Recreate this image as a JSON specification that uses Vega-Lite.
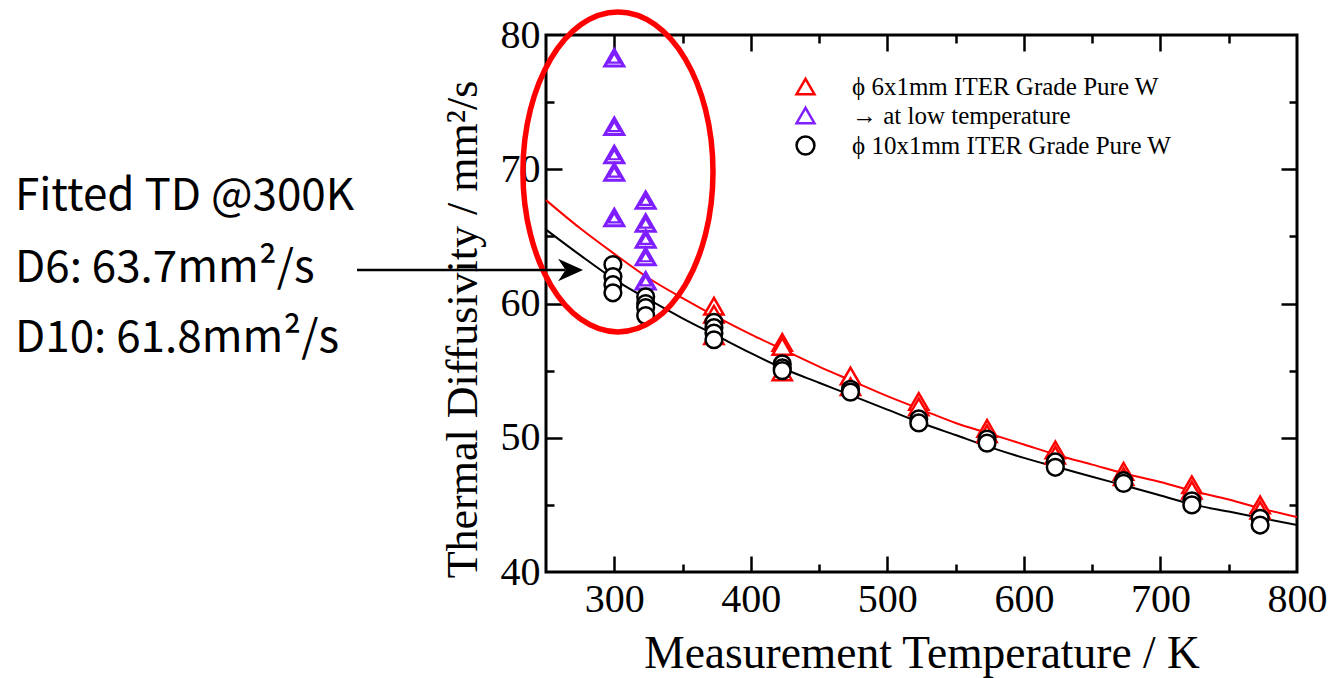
{
  "$schema": "https://vega.github.io/schema/vega-lite/v6.json",
  "width": 751,
  "height": 537,
  "autosize": {"type": "none"},
  "padding": {"left": 546, "top": 35, "right": 38, "bottom": 106},
  "background": "white",
  "config": {
    "view": {"stroke": "black", "strokeWidth": 3},
    "axis": {"grid": false, "domain": false, "labelColor": "black", "titleColor": "black", "tickColor": "black", "tickWidth": 2.5, "labelFont": "Liberation Serif", "titleFont": "Liberation Serif", "titleFontWeight": "normal", "labelFlush": false, "labelOverlap": false},
    "legend": {"labelFont": "Liberation Serif", "labelFontSize": 25, "labelLimit": 0, "labelColor": "black", "symbolSize": 320, "symbolStrokeWidth": 2.5, "labelOffset": 34, "rowPadding": 2, "padding": 0}
  },
  "datasets": {
    "fit6": [
      {"T": 250, "D": 67.7}, {"T": 275, "D": 65.6}, {"T": 300, "D": 63.7}, {"T": 325, "D": 61.9}, {"T": 350, "D": 60.4}, {"T": 375, "D": 59.0}, {"T": 400, "D": 57.7}, {"T": 425, "D": 56.5}, {"T": 450, "D": 55.3}, {"T": 475, "D": 54.2}, {"T": 500, "D": 53.1}, {"T": 525, "D": 52.1}, {"T": 550, "D": 51.1}, {"T": 575, "D": 50.3}, {"T": 600, "D": 49.5}, {"T": 625, "D": 48.7}, {"T": 650, "D": 48.0}, {"T": 675, "D": 47.3}, {"T": 700, "D": 46.7}, {"T": 725, "D": 46.0}, {"T": 750, "D": 45.4}, {"T": 775, "D": 44.7}, {"T": 800, "D": 44.1}
    ],
    "fit10": [
      {"T": 250, "D": 65.5}, {"T": 275, "D": 63.6}, {"T": 300, "D": 61.8}, {"T": 325, "D": 60.3}, {"T": 350, "D": 58.9}, {"T": 375, "D": 57.6}, {"T": 400, "D": 56.3}, {"T": 425, "D": 55.1}, {"T": 450, "D": 54.1}, {"T": 475, "D": 53.1}, {"T": 500, "D": 52.1}, {"T": 525, "D": 51.1}, {"T": 550, "D": 50.2}, {"T": 575, "D": 49.3}, {"T": 600, "D": 48.5}, {"T": 625, "D": 47.8}, {"T": 650, "D": 47.1}, {"T": 675, "D": 46.4}, {"T": 700, "D": 45.7}, {"T": 725, "D": 45.0}, {"T": 750, "D": 44.5}, {"T": 775, "D": 44.0}, {"T": 800, "D": 43.5}
    ],
    "red": [
      {"T": 373, "D": 59.8, "series": "ϕ 6x1mm ITER Grade Pure W"}, {"T": 373, "D": 59.2, "series": "ϕ 6x1mm ITER Grade Pure W"}, {"T": 373, "D": 57.6, "series": "ϕ 6x1mm ITER Grade Pure W"},
      {"T": 423, "D": 57.1, "series": "ϕ 6x1mm ITER Grade Pure W"}, {"T": 423, "D": 56.8, "series": "ϕ 6x1mm ITER Grade Pure W"}, {"T": 423, "D": 54.9, "series": "ϕ 6x1mm ITER Grade Pure W"},
      {"T": 473, "D": 54.6, "series": "ϕ 6x1mm ITER Grade Pure W"}, {"T": 473, "D": 53.8, "series": "ϕ 6x1mm ITER Grade Pure W"},
      {"T": 523, "D": 52.7, "series": "ϕ 6x1mm ITER Grade Pure W"}, {"T": 523, "D": 52.3, "series": "ϕ 6x1mm ITER Grade Pure W"},
      {"T": 573, "D": 50.7, "series": "ϕ 6x1mm ITER Grade Pure W"}, {"T": 573, "D": 50.3, "series": "ϕ 6x1mm ITER Grade Pure W"},
      {"T": 623, "D": 49.1, "series": "ϕ 6x1mm ITER Grade Pure W"}, {"T": 623, "D": 48.7, "series": "ϕ 6x1mm ITER Grade Pure W"},
      {"T": 673, "D": 47.5, "series": "ϕ 6x1mm ITER Grade Pure W"}, {"T": 673, "D": 47.1, "series": "ϕ 6x1mm ITER Grade Pure W"},
      {"T": 723, "D": 46.5, "series": "ϕ 6x1mm ITER Grade Pure W"}, {"T": 723, "D": 46.1, "series": "ϕ 6x1mm ITER Grade Pure W"},
      {"T": 773, "D": 45.0, "series": "ϕ 6x1mm ITER Grade Pure W"}, {"T": 773, "D": 44.6, "series": "ϕ 6x1mm ITER Grade Pure W"}
    ],
    "purple": [
      {"T": 300, "D": 78.3, "series": "→ at low temperature"}, {"T": 300, "D": 73.2, "series": "→ at low temperature"}, {"T": 300, "D": 71.1, "series": "→ at low temperature"}, {"T": 300, "D": 69.8, "series": "→ at low temperature"}, {"T": 300, "D": 66.4, "series": "→ at low temperature"},
      {"T": 323, "D": 67.7, "series": "→ at low temperature"}, {"T": 323, "D": 66.0, "series": "→ at low temperature"}, {"T": 323, "D": 64.8, "series": "→ at low temperature"}, {"T": 323, "D": 63.5, "series": "→ at low temperature"}, {"T": 323, "D": 61.7, "series": "→ at low temperature"}
    ],
    "black": [
      {"T": 299, "D": 62.9, "series": "ϕ 10x1mm ITER Grade Pure W"}, {"T": 299, "D": 62.0, "series": "ϕ 10x1mm ITER Grade Pure W"}, {"T": 299, "D": 61.4, "series": "ϕ 10x1mm ITER Grade Pure W"}, {"T": 299, "D": 60.8, "series": "ϕ 10x1mm ITER Grade Pure W"},
      {"T": 323, "D": 60.5, "series": "ϕ 10x1mm ITER Grade Pure W"}, {"T": 323, "D": 60.0, "series": "ϕ 10x1mm ITER Grade Pure W"}, {"T": 323, "D": 59.7, "series": "ϕ 10x1mm ITER Grade Pure W"}, {"T": 323, "D": 59.1, "series": "ϕ 10x1mm ITER Grade Pure W"},
      {"T": 373, "D": 58.6, "series": "ϕ 10x1mm ITER Grade Pure W"}, {"T": 373, "D": 58.2, "series": "ϕ 10x1mm ITER Grade Pure W"}, {"T": 373, "D": 57.8, "series": "ϕ 10x1mm ITER Grade Pure W"}, {"T": 373, "D": 57.3, "series": "ϕ 10x1mm ITER Grade Pure W"},
      {"T": 423, "D": 55.5, "series": "ϕ 10x1mm ITER Grade Pure W"}, {"T": 423, "D": 55.2, "series": "ϕ 10x1mm ITER Grade Pure W"}, {"T": 423, "D": 55.0, "series": "ϕ 10x1mm ITER Grade Pure W"},
      {"T": 473, "D": 53.6, "series": "ϕ 10x1mm ITER Grade Pure W"}, {"T": 473, "D": 53.4, "series": "ϕ 10x1mm ITER Grade Pure W"},
      {"T": 523, "D": 51.4, "series": "ϕ 10x1mm ITER Grade Pure W"}, {"T": 523, "D": 51.1, "series": "ϕ 10x1mm ITER Grade Pure W"},
      {"T": 573, "D": 49.9, "series": "ϕ 10x1mm ITER Grade Pure W"}, {"T": 573, "D": 49.6, "series": "ϕ 10x1mm ITER Grade Pure W"},
      {"T": 623, "D": 48.2, "series": "ϕ 10x1mm ITER Grade Pure W"}, {"T": 623, "D": 47.8, "series": "ϕ 10x1mm ITER Grade Pure W"},
      {"T": 673, "D": 46.8, "series": "ϕ 10x1mm ITER Grade Pure W"}, {"T": 673, "D": 46.6, "series": "ϕ 10x1mm ITER Grade Pure W"},
      {"T": 723, "D": 45.3, "series": "ϕ 10x1mm ITER Grade Pure W"}, {"T": 723, "D": 45.0, "series": "ϕ 10x1mm ITER Grade Pure W"},
      {"T": 773, "D": 44.0, "series": "ϕ 10x1mm ITER Grade Pure W"}, {"T": 773, "D": 43.5, "series": "ϕ 10x1mm ITER Grade Pure W"}
    ],
    "ellipse": [{"T": 302.7, "D": 69.8}],
    "arrow": [{"T": 111.6, "T2": 264, "D": 62.5}],
    "arrowhead": [{"T": 268, "D": 62.5}],
    "notes": [
      {"label": "Fitted TD @300K", "T": -138.9, "D": 67.0},
      {"label": "D6: 63.7mm²/s", "T": -138.9, "D": 61.6},
      {"label": "D10: 61.8mm²/s", "T": -138.9, "D": 56.4}
    ]
  },
  "resolve": {"axis": {"x": "independent", "y": "independent"}},
  "layer": [
    {
      "data": {"name": "fit6"},
      "mark": {"type": "line", "color": "#ff0000", "strokeWidth": 2, "interpolate": "monotone"},
      "encoding": {
        "x": {"field": "T", "type": "quantitative", "scale": {"domain": [250, 800], "nice": false, "zero": false},
              "axis": {"orient": "bottom", "values": [300, 400, 500, 600, 700, 800], "ticks": false, "labelFontSize": 40, "labelPadding": 7, "title": "Measurement Temperature / K", "titleFontSize": 45.5, "titlePadding": 12}},
        "y": {"field": "D", "type": "quantitative", "scale": {"domain": [40, 80], "nice": false, "zero": false},
              "axis": {"orient": "left", "values": [40, 50, 60, 70, 80], "ticks": false, "labelFontSize": 40, "labelPadding": 6, "title": "Thermal Diffusivity / mm²/s", "titleFontSize": 44, "titlePadding": 15, "titleY": 294}}
      }
    },
    {
      "data": {"name": "fit10"},
      "mark": {"type": "line", "color": "#000000", "strokeWidth": 2, "interpolate": "monotone"},
      "encoding": {
        "x": {"field": "T", "type": "quantitative", "scale": {"domain": [250, 800], "nice": false, "zero": false},
              "axis": {"orient": "bottom", "values": [300, 400, 500, 600, 700], "labels": false, "tickSize": -16, "title": null}},
        "y": {"field": "D", "type": "quantitative", "scale": {"domain": [40, 80], "nice": false, "zero": false},
              "axis": {"orient": "left", "values": [50, 60, 70], "labels": false, "tickSize": -16, "title": null}}
      }
    },
    {
      "data": {"name": "red"},
      "mark": {"type": "point", "fill": "white", "strokeWidth": 2.5, "size": 370, "opacity": 1},
      "encoding": {
        "x": {"field": "T", "type": "quantitative", "scale": {"domain": [250, 800], "nice": false, "zero": false},
              "axis": {"orient": "bottom", "values": [350, 450, 550, 650, 750], "labels": false, "tickSize": -8, "title": null}},
        "y": {"field": "D", "type": "quantitative", "scale": {"domain": [40, 80], "nice": false, "zero": false},
              "axis": {"orient": "left", "values": [45, 55, 65, 75], "labels": false, "tickSize": -8, "title": null}},
        "stroke": {"field": "series", "type": "nominal",
                   "scale": {"domain": ["ϕ 6x1mm ITER Grade Pure W", "→ at low temperature", "ϕ 10x1mm ITER Grade Pure W"], "range": ["#ff0000", "#7f1fff", "#000000"]},
                   "legend": {"orient": "none", "legendX": 247, "legendY": 39, "title": null}},
        "shape": {"field": "series", "type": "nominal",
                  "scale": {"domain": ["ϕ 6x1mm ITER Grade Pure W", "→ at low temperature", "ϕ 10x1mm ITER Grade Pure W"], "range": ["triangle-up", "triangle-up", "circle"]},
                  "legend": {"orient": "none", "legendX": 247, "legendY": 39, "title": null}}
      }
    },
    {
      "data": {"name": "purple"},
      "mark": {"type": "point", "fill": "white", "strokeWidth": 3, "size": 360, "opacity": 1},
      "encoding": {
        "x": {"field": "T", "type": "quantitative", "scale": {"domain": [250, 800], "nice": false, "zero": false},
              "axis": {"orient": "top", "values": [300, 400, 500, 600, 700], "labels": false, "tickSize": -16, "title": null}},
        "y": {"field": "D", "type": "quantitative", "scale": {"domain": [40, 80], "nice": false, "zero": false},
              "axis": {"orient": "right", "values": [50, 60, 70], "labels": false, "tickSize": -16, "title": null}},
        "stroke": {"field": "series", "type": "nominal"},
        "shape": {"field": "series", "type": "nominal"}
      }
    },
    {
      "data": {"name": "purple"},
      "mark": {"type": "point", "shape": "triangle-up", "filled": false, "color": "#7f1fff", "strokeWidth": 2.2, "size": 120, "opacity": 1},
      "encoding": {
        "x": {"field": "T", "type": "quantitative", "scale": {"domain": [250, 800], "nice": false, "zero": false},
              "axis": {"orient": "top", "values": [350, 450, 550, 650, 750], "labels": false, "tickSize": -8, "title": null}},
        "y": {"field": "D", "type": "quantitative", "scale": {"domain": [40, 80], "nice": false, "zero": false},
              "axis": {"orient": "right", "values": [45, 55, 65, 75], "labels": false, "tickSize": -8, "title": null}}
      }
    },
    {
      "data": {"name": "black"},
      "mark": {"type": "point", "fill": "white", "strokeWidth": 2.5, "size": 280, "opacity": 1},
      "encoding": {
        "x": {"field": "T", "type": "quantitative", "axis": null},
        "y": {"field": "D", "type": "quantitative", "axis": null},
        "stroke": {"field": "series", "type": "nominal"},
        "shape": {"field": "series", "type": "nominal"}
      }
    },
    {
      "data": {"name": "ellipse"},
      "mark": {"type": "point", "shape": "M 0.594 0 C 0.594 0.552 0.328 1 0 1 C -0.328 1 -0.594 0.552 -0.594 0 C -0.594 -0.552 -0.328 -1 0 -1 C 0.328 -1 0.594 -0.552 0.594 0 Z", "size": 102400, "filled": false, "color": "#ff0000", "strokeWidth": 5.5, "opacity": 1},
      "encoding": {
        "x": {"field": "T", "type": "quantitative", "axis": null},
        "y": {"field": "D", "type": "quantitative", "axis": null}
      }
    },
    {
      "data": {"name": "arrow"},
      "mark": {"type": "rule", "color": "#000000", "strokeWidth": 2.5},
      "encoding": {
        "x": {"field": "T", "type": "quantitative", "axis": null},
        "x2": {"field": "T2"},
        "y": {"field": "D", "type": "quantitative", "axis": null}
      }
    },
    {
      "data": {"name": "arrowhead"},
      "mark": {"type": "point", "shape": "M 1 0 L -1 -0.9 L -0.4 0 L -1 0.9 Z", "size": 625, "filled": true, "color": "#000000", "opacity": 1, "strokeWidth": 0},
      "encoding": {
        "x": {"field": "T", "type": "quantitative", "axis": null},
        "y": {"field": "D", "type": "quantitative", "axis": null}
      }
    },
    {
      "data": {"name": "notes"},
      "mark": {"type": "text", "font": "Noto Sans CJK JP", "fontSize": 44, "align": "left", "baseline": "alphabetic", "color": "#000000"},
      "encoding": {
        "x": {"field": "T", "type": "quantitative", "axis": null},
        "y": {"field": "D", "type": "quantitative", "axis": null},
        "text": {"field": "label"}
      }
    }
  ]
}
